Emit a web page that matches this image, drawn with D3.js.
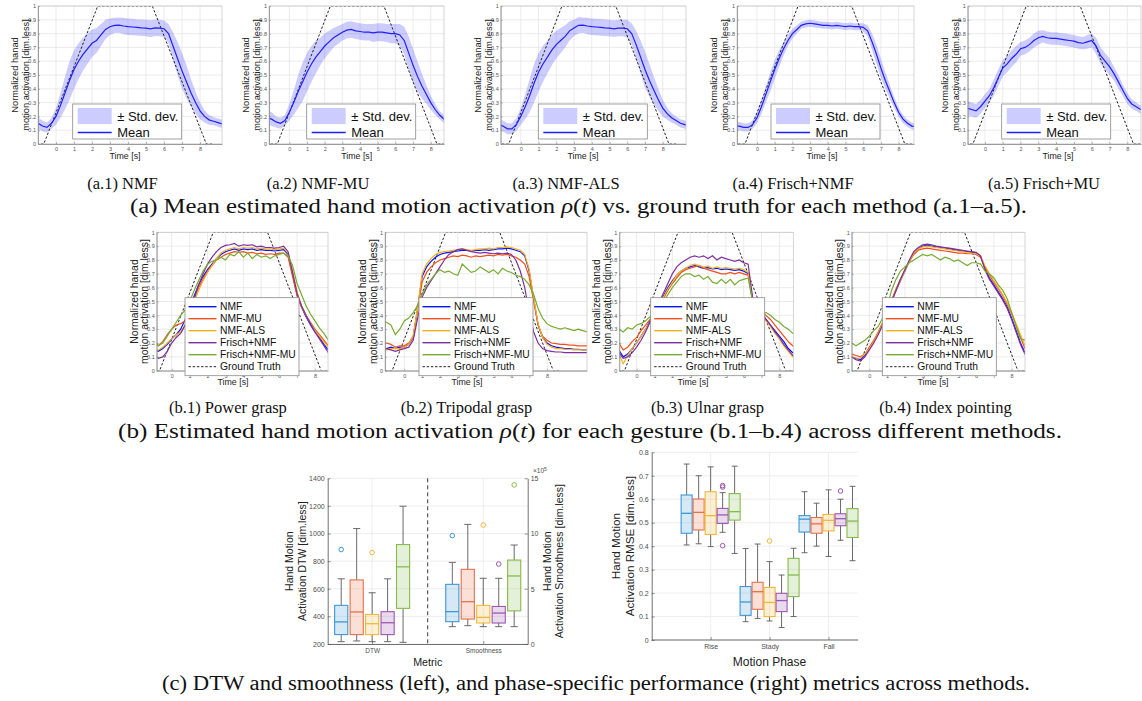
<!DOCTYPE html>
<html>
<head>
<meta charset="utf-8">
<script src="https://cdn.jsdelivr.net/npm/d3@7/dist/d3.min.js"></script>
<style>
  body { margin: 0; background: #fff; }
  svg { display: block; }
</style>
</head>
<body>
<svg id="fig" width="1142" height="701"></svg>
<script>
// ---------- data ----------
// time grid (s), 0.25 s steps; every curve below is read off the reference at these times
const T = [-1.25,-1,-0.75,-0.5,-0.25,0,0.25,0.5,0.75,1,1.25,1.5,1.75,2,2.25,2.5,2.75,3,3.25,3.5,3.75,4,4.25,4.5,4.75,5,
  5.25,5.5,5.75,6,6.25,6.5,6.75,7,7.25,7.5,7.75,8,8.25,8.5,8.75,9,9.25,9.5,9.75,10,10.25];

const timeTicks = [0,1,2,3,4,5,6,7,8];
const actTicks = [0,0.1,0.2,0.3,0.4,0.5,0.6,0.7,0.8,0.9,1];
const actTickLabels = ['0','0.1','0.2','0.3','0.4','0.5','0.6','0.7','0.8','0.9','1'];

// ground truth trapezoid
const gtT = [-1.3, -0.68, 2.32, 5.35, 8.35, 8.75];
const gtV = [0, 0, 1, 1, 0, 0];

// (a) mean and std. dev. per method
const a1Mean = [0.16, 0.15,0.13,0.12,0.15, 0.20,0.28,0.37,0.46, 0.54,0.60,0.65,0.69, 0.73,0.75,0.79,0.83,
  0.85,0.86,0.862,0.855, 0.85,0.848,0.845,0.842, 0.84,0.835,0.842,0.84, 0.835,0.80,0.71,0.62,
  0.53,0.45,0.37,0.30, 0.24,0.20,0.175,0.165, 0.155,0.145,0.14];
const a1Sd = [0.04, 0.04,0.04,0.035,0.04, 0.06,0.09,0.12,0.14, 0.14,0.13,0.12,0.11, 0.10,0.09,0.08,0.07,
  0.06,0.055,0.055,0.06, 0.06,0.06,0.058,0.06, 0.06,0.062,0.06,0.06, 0.06,0.07,0.10,0.12,
  0.13,0.12,0.10,0.08, 0.06,0.045,0.035,0.03, 0.03,0.03,0.03];
const a2Mean = [0.19, 0.18,0.16,0.15,0.17, 0.23,0.30,0.38,0.45, 0.52,0.58,0.63,0.67, 0.71,0.74,0.77,0.79,
  0.81,0.825,0.83,0.82, 0.815,0.81,0.81,0.805, 0.81,0.81,0.805,0.80, 0.80,0.79,0.75,0.66,
  0.57,0.49,0.42,0.36, 0.30,0.25,0.21,0.18, 0.17,0.17,0.16];
const a2Sd = [0.05, 0.05,0.04,0.04,0.04, 0.06,0.09,0.12,0.14, 0.14,0.13,0.12,0.10, 0.09,0.08,0.07,0.065,
  0.06,0.06,0.06,0.06, 0.06,0.06,0.06,0.065, 0.065,0.065,0.065,0.07, 0.07,0.08,0.10,0.12,
  0.12,0.11,0.09,0.07, 0.05,0.04,0.03,0.03, 0.03,0.03,0.03];
const a3Mean = [0.14, 0.13,0.11,0.11,0.14, 0.20,0.27,0.35,0.44, 0.52,0.58,0.63,0.68, 0.72,0.75,0.78,0.82,
  0.84,0.86,0.862,0.855, 0.85,0.848,0.845,0.842, 0.84,0.835,0.84,0.84, 0.835,0.80,0.72,0.63,
  0.54,0.46,0.39,0.32, 0.26,0.22,0.19,0.17, 0.15,0.14,0.13];
const a3Sd = [0.04, 0.04,0.04,0.04,0.045, 0.06,0.09,0.12,0.14, 0.14,0.13,0.12,0.11, 0.10,0.09,0.08,0.07,
  0.06,0.06,0.055,0.06, 0.06,0.06,0.06,0.06, 0.06,0.06,0.06,0.06, 0.065,0.075,0.10,0.12,
  0.13,0.12,0.10,0.08, 0.06,0.045,0.035,0.03, 0.03,0.03,0.03];
const a4Mean = [0.13, 0.13,0.12,0.12,0.14, 0.19,0.27,0.36,0.45, 0.54,0.62,0.69,0.75, 0.80,0.83,0.86,0.87,
  0.875,0.87,0.865,0.86, 0.86,0.855,0.86,0.855, 0.85,0.855,0.85,0.85, 0.845,0.82,0.74,0.65,
  0.55,0.46,0.38,0.30, 0.23,0.18,0.15,0.13, 0.125,0.12,0.12];
const a4Sd = [0.03, 0.03,0.03,0.03,0.03, 0.04,0.05,0.06,0.07, 0.07,0.06,0.05,0.04, 0.035,0.03,0.025,0.025,
  0.025,0.025,0.025,0.025, 0.025,0.025,0.025,0.025, 0.025,0.025,0.025,0.025, 0.03,0.04,0.06,0.07,
  0.07,0.06,0.05,0.04, 0.03,0.03,0.025,0.025, 0.025,0.025,0.025];
const a5Mean = [0.27, 0.26,0.25,0.24,0.27, 0.31,0.35,0.41,0.48, 0.55,0.58,0.62,0.65, 0.69,0.70,0.72,0.75,
  0.77,0.78,0.77,0.765, 0.765,0.76,0.755,0.75, 0.745,0.735,0.73,0.74, 0.75,0.71,0.64,0.60,
  0.56,0.51,0.45,0.39, 0.33,0.29,0.27,0.25, 0.25,0.25,0.25];
const a5Sd = [0.05, 0.05,0.05,0.05,0.05, 0.05,0.05,0.06,0.06, 0.06,0.06,0.06,0.06, 0.05,0.05,0.05,0.05,
  0.05,0.045,0.045,0.045, 0.045,0.045,0.045,0.045, 0.045,0.045,0.045,0.05, 0.05,0.06,0.06,0.06,
  0.06,0.05,0.05,0.04, 0.04,0.035,0.03,0.03, 0.03,0.03,0.03];

// (b) per gesture, one curve per method
const methods = ['NMF', 'NMF-MU', 'NMF-ALS', 'Frisch+NMF', 'Frisch+NMF-MU'];

const b1NMF = [0.15, 0.15,0.14,0.16,0.19, 0.23,0.26,0.30,0.37, 0.45,0.54,0.62,0.68, 0.73,0.77,0.81,0.84,
  0.86,0.87,0.88,0.87, 0.88,0.875,0.88,0.87, 0.875,0.87,0.87,0.865, 0.87,0.875,0.84,0.70,
  0.55,0.46,0.39,0.33, 0.28,0.24,0.19,0.15, 0.14,0.14,0.14];
const b1MU = [0.21, 0.20,0.18,0.21,0.26, 0.30,0.33,0.34,0.36, 0.42,0.52,0.60,0.66, 0.72,0.76,0.80,0.82,
  0.84,0.85,0.86,0.855, 0.86,0.85,0.855,0.845, 0.85,0.84,0.845,0.84, 0.85,0.85,0.82,0.68,
  0.54,0.46,0.40,0.35, 0.30,0.26,0.22,0.18, 0.17,0.17,0.17];
const b1ALS = [0.14, 0.14,0.15,0.17,0.20, 0.23,0.26,0.28,0.33, 0.42,0.50,0.58,0.65, 0.71,0.76,0.81,0.85,
  0.87,0.88,0.89,0.88, 0.89,0.885,0.89,0.88, 0.885,0.88,0.88,0.875, 0.88,0.885,0.85,0.72,
  0.57,0.47,0.40,0.34, 0.29,0.25,0.21,0.17, 0.16,0.16,0.16];
const b1FNMF = [0.13, 0.12,0.09,0.10,0.14, 0.20,0.24,0.27,0.33, 0.42,0.52,0.62,0.70, 0.77,0.82,0.86,0.89,
  0.905,0.91,0.92,0.90, 0.91,0.905,0.91,0.895, 0.90,0.89,0.89,0.885, 0.89,0.90,0.86,0.71,
  0.56,0.47,0.40,0.34, 0.28,0.23,0.18,0.13, 0.12,0.12,0.12];
const b1FMU = [0.24, 0.23,0.18,0.20,0.25, 0.30,0.35,0.40,0.44, 0.50,0.58,0.65,0.72, 0.77,0.79,0.80,0.82,
  0.80,0.84,0.83,0.86, 0.82,0.85,0.81,0.84, 0.82,0.83,0.81,0.83, 0.84,0.85,0.83,0.76,
  0.63,0.55,0.47,0.41, 0.36,0.31,0.27,0.22, 0.21,0.21,0.21];

const b2NMF = [0.16, 0.16,0.17,0.16,0.17, 0.17,0.19,0.24,0.45, 0.68,0.75,0.79,0.82, 0.84,0.85,0.855,0.86,
  0.865,0.87,0.87,0.865, 0.87,0.87,0.875,0.87, 0.875,0.88,0.88,0.885, 0.88,0.87,0.86,0.83,
  0.72,0.52,0.33,0.24, 0.20,0.18,0.17,0.165, 0.16,0.16,0.155,0.155, 0.15,0.15];
const b2MU = [0.20, 0.20,0.19,0.17,0.18, 0.18,0.20,0.25,0.44, 0.64,0.71,0.75,0.78, 0.80,0.81,0.82,0.83,
  0.825,0.835,0.83,0.82, 0.83,0.825,0.83,0.835, 0.83,0.84,0.835,0.84, 0.83,0.82,0.80,0.77,
  0.68,0.50,0.33,0.25, 0.22,0.20,0.195,0.19, 0.19,0.185,0.185,0.18, 0.18,0.18];
const b2ALS = [0.15, 0.15,0.16,0.16,0.16, 0.17,0.19,0.25,0.46, 0.70,0.77,0.81,0.84, 0.855,0.86,0.865,0.87,
  0.875,0.88,0.875,0.87, 0.875,0.88,0.88,0.885, 0.88,0.89,0.89,0.895, 0.89,0.88,0.87,0.84,
  0.73,0.53,0.34,0.24, 0.19,0.17,0.16,0.16, 0.155,0.155,0.15,0.15, 0.15,0.15];
const b2FNMF = [0.16, 0.16,0.15,0.14,0.15, 0.16,0.17,0.22,0.38, 0.53,0.60,0.65,0.70, 0.75,0.80,0.84,0.86,
  0.875,0.88,0.87,0.86, 0.855,0.85,0.855,0.85, 0.845,0.85,0.845,0.85, 0.84,0.80,0.72,0.60,
  0.42,0.28,0.20,0.16, 0.145,0.14,0.135,0.135, 0.13,0.13,0.13,0.13, 0.13,0.13];
const b2FMU = [0.35, 0.35,0.33,0.26,0.30, 0.36,0.38,0.42,0.47, 0.55,0.62,0.66,0.70, 0.73,0.71,0.72,0.70,
  0.69,0.77,0.74,0.71, 0.72,0.75,0.73,0.71, 0.73,0.70,0.74,0.72, 0.71,0.69,0.68,0.66,
  0.62,0.55,0.45,0.38, 0.34,0.32,0.31,0.30, 0.31,0.30,0.29,0.30, 0.29,0.28];

const b3NMF = [0.16, 0.15,0.10,0.12,0.16, 0.20,0.25,0.30,0.36, 0.42,0.48,0.54,0.60, 0.65,0.69,0.72,0.74,
  0.75,0.76,0.75,0.74, 0.745,0.735,0.74,0.73, 0.735,0.73,0.725,0.73, 0.72,0.70,0.50,0.45,
  0.41,0.37,0.33,0.29, 0.25,0.21,0.16,0.13, 0.12,0.12,0.12];
const b3MU = [0.21, 0.20,0.15,0.17,0.21, 0.24,0.29,0.33,0.37, 0.42,0.47,0.52,0.58, 0.63,0.67,0.71,0.73,
  0.74,0.75,0.76,0.74, 0.73,0.72,0.71,0.70, 0.70,0.71,0.70,0.71, 0.70,0.69,0.52,0.46,
  0.43,0.40,0.37,0.33, 0.29,0.25,0.21,0.18, 0.18,0.18,0.18];
const b3ALS = [0.13, 0.12,0.05,0.11,0.16, 0.20,0.25,0.30,0.35, 0.41,0.47,0.53,0.59, 0.64,0.69,0.72,0.74,
  0.76,0.77,0.76,0.75, 0.755,0.74,0.75,0.74, 0.745,0.74,0.735,0.74, 0.73,0.71,0.51,0.45,
  0.40,0.36,0.32,0.27, 0.23,0.18,0.14,0.10, 0.10,0.10,0.10];
const b3FNMF = [0.14, 0.13,0.09,0.10,0.13, 0.17,0.22,0.28,0.35, 0.42,0.49,0.56,0.63, 0.70,0.75,0.78,0.80,
  0.82,0.83,0.82,0.83, 0.81,0.83,0.80,0.82, 0.81,0.80,0.79,0.80, 0.78,0.77,0.53,0.46,
  0.41,0.37,0.33,0.28, 0.24,0.19,0.15,0.11, 0.11,0.11,0.11];
const b3FMU = [0.30, 0.30,0.28,0.31,0.30, 0.33,0.34,0.36,0.39, 0.42,0.46,0.50,0.55, 0.60,0.64,0.68,0.70,
  0.70,0.68,0.69,0.66, 0.68,0.64,0.63,0.66, 0.63,0.66,0.62,0.65, 0.66,0.67,0.50,0.44,
  0.42,0.42,0.40,0.37, 0.35,0.32,0.30,0.27, 0.27,0.27,0.27];

const b4NMF = [0.10, 0.10,0.09,0.08,0.11, 0.16,0.21,0.27,0.34, 0.42,0.50,0.58,0.65, 0.72,0.79,0.85,0.88,
  0.90,0.905,0.90,0.895, 0.89,0.885,0.88,0.875, 0.87,0.865,0.86,0.855, 0.85,0.83,0.74,0.67,
  0.62,0.57,0.52,0.46, 0.38,0.29,0.20,0.13, 0.12,0.12,0.12];
const b4MU = [0.12, 0.12,0.11,0.10,0.12, 0.17,0.22,0.28,0.35, 0.43,0.51,0.59,0.66, 0.73,0.79,0.84,0.87,
  0.88,0.885,0.88,0.875, 0.87,0.865,0.86,0.855, 0.85,0.85,0.845,0.845, 0.84,0.82,0.75,0.69,
  0.64,0.59,0.54,0.48, 0.41,0.33,0.24,0.16, 0.15,0.15,0.15];
const b4ALS = [0.10, 0.10,0.09,0.09,0.12, 0.16,0.21,0.27,0.34, 0.42,0.50,0.58,0.65, 0.72,0.79,0.85,0.88,
  0.895,0.90,0.895,0.89, 0.885,0.88,0.875,0.87, 0.865,0.86,0.855,0.85, 0.845,0.83,0.76,0.70,
  0.65,0.60,0.55,0.49, 0.42,0.34,0.26,0.18, 0.16,0.16,0.16];
const b4FNMF = [0.10, 0.10,0.08,0.07,0.10, 0.15,0.20,0.26,0.33, 0.41,0.50,0.58,0.66, 0.73,0.80,0.86,0.89,
  0.91,0.915,0.91,0.90, 0.895,0.89,0.885,0.88, 0.875,0.87,0.865,0.86, 0.855,0.83,0.73,0.66,
  0.61,0.56,0.51,0.45, 0.37,0.28,0.19,0.12, 0.12,0.12,0.12];
const b4FMU = [0.20, 0.20,0.18,0.20,0.22, 0.25,0.29,0.32,0.38, 0.46,0.58,0.66,0.72, 0.75,0.78,0.80,0.82,
  0.84,0.83,0.84,0.82, 0.80,0.82,0.81,0.79, 0.80,0.78,0.76,0.78, 0.78,0.77,0.72,0.70,
  0.67,0.62,0.58,0.52, 0.42,0.32,0.23,0.22, 0.22,0.22,0.22];

// (c left) box stats [lower whisker, q1, median, q3, upper whisker] + outliers
const metricCats = ['DTW', 'Smoothness'];
const dtwStats = [[217,268,360,480,672],[222,268,432,664,1036],[217,268,347,414,571],[217,268,354,434,672],[212,458,759,920,1198]];
const dtwOut = [[884],[],[862],[],[]];
const smoothStats = [[1.57,2.02,2.93,5.4,7.39],[1.66,2.26,3.83,6.76,10.83],[1.57,1.9,2.4,3.5,5.95],[1.57,1.9,2.8,3.4,5.95],[1.57,3.0,6.16,7.6,8.96]];
const smoothOut = [[9.81],[],[10.77],[7.24],[14.4]];
const dtwTicks = [200,400,600,800,1000,1200,1400];
const smoothTicks = [0,5,10,15];

// (c right) RMSE per motion phase
const phases = ['Rise', 'Stady', 'Fall'];
const riseStats = [[0.405,0.455,0.54,0.618,0.75],[0.41,0.469,0.544,0.601,0.70],[0.398,0.45,0.53,0.632,0.738],[0.459,0.497,0.533,0.561,0.628],[0.369,0.511,0.547,0.624,0.741]];
const riseOut = [[],[],[],[0.652,0.658,0.402],[]];
const stadyStats = [[0.078,0.105,0.162,0.228,0.39],[0.092,0.131,0.206,0.246,0.409],[0.081,0.10,0.16,0.224,0.334],[0.053,0.121,0.168,0.199,0.277],[0.10,0.185,0.277,0.348,0.391]];
const stadyOut = [[],[],[0.422],[],[]];
const fallStats = [[0.372,0.46,0.515,0.53,0.632],[0.40,0.455,0.495,0.522,0.583],[0.356,0.465,0.51,0.535,0.64],[0.425,0.487,0.517,0.538,0.60],[0.338,0.437,0.507,0.56,0.655]];
const fallOut = [[],[],[],[0.635],[]];
const rmseTicks = [0,0.1,0.2,0.3,0.4,0.5,0.6,0.7,0.8];

// ---------- styling ----------
const SANS = "'Liberation Sans', Arial, sans-serif";
const SERIF = "'Liberation Serif', 'Times New Roman', serif";
const lineColors = ['#0a14ff', '#f0501e', '#f2b21e', '#7e2f9e', '#77ac30'];
const boxColors = ['#3d97d8', '#e8714a', '#f0b93a', '#9c58b0', '#86bb4c'];

const svg = d3.select('#fig');

// ---------- time-series panels ----------
function timePanel(p, top, bottom) {
  const x = d3.scaleLinear().domain(p.dom).range([p.left, p.right]);
  const y = d3.scaleLinear().domain([0, 1]).range([bottom, top]);
  const g = svg.append('g');

  g.append('g').selectAll('line').data(timeTicks).join('line')
    .attr('x1', d => x(d)).attr('x2', d => x(d)).attr('y1', top).attr('y2', bottom)
    .attr('stroke', '#e3e3e3').attr('stroke-width', 0.7);
  g.append('g').selectAll('line').data(actTicks).join('line')
    .attr('x1', p.left).attr('x2', p.right).attr('y1', d => y(d)).attr('y2', d => y(d))
    .attr('stroke', '#e3e3e3').attr('stroke-width', 0.7);

  const clipId = 'clip-' + p.id;
  g.append('clipPath').attr('id', clipId).append('rect')
    .attr('x', p.left).attr('y', top).attr('width', p.right - p.left).attr('height', bottom - top);
  const plot = g.append('g').attr('clip-path', `url(#${clipId})`);
  return { x, y, g, plot };
}

function timeAxes(g, x, y, p, top, bottom, labelSize, labOff) {
  g.append('rect').attr('x', p.left).attr('y', top).attr('width', p.right - p.left).attr('height', bottom - top)
    .attr('fill', 'none').attr('stroke', '#c4c4c4').attr('stroke-width', 0.7);

  const ax = g.append('g').attr('transform', `translate(0,${bottom})`)
    .call(d3.axisBottom(x).tickValues(timeTicks).tickSizeInner(-2).tickSizeOuter(0).tickPadding(3));
  const ay = g.append('g').attr('transform', `translate(${p.left},0)`)
    .call(d3.axisLeft(y).tickValues(actTicks).tickFormat((d, i) => actTickLabels[i]).tickSizeInner(-2).tickSizeOuter(0).tickPadding(2));
  [ax, ay].forEach(a => {
    a.select('.domain').attr('stroke', '#8a8a8a').attr('stroke-width', 0.8);
    a.selectAll('.tick line').attr('stroke', '#8a8a8a').attr('stroke-width', 0.6);
    a.selectAll('.tick text').attr('font-family', SANS).attr('font-size', 5.5).attr('fill', '#555');
  });

  const yc = (top + bottom) / 2;
  ['Normalized hanad', 'motion activation [dim.less]'].forEach((s, i) => {
    g.append('text').attr('transform', `translate(${p.left + labOff[i]},${yc}) rotate(-90)`)
      .attr('text-anchor', 'middle').attr('dominant-baseline', 'central')
      .attr('font-family', SANS).attr('font-size', labelSize).attr('fill', '#222').text(s);
  });
}

function groundTruth(plot, x, y) {
  plot.append('path').datum(gtT.map((t, i) => [t, gtV[i]]))
    .attr('d', d3.line().x(d => x(d[0])).y(d => y(d[1])))
    .attr('fill', 'none').attr('stroke', '#222').attr('stroke-width', 1).attr('stroke-dasharray', '2.4,1.8');
}

// row (a)
const rowATop = 6, rowABottom = 144;
const panelsA = [
  { id: 'a1', cap: '(a.1) NMF', mean: a1Mean, sd: a1Sd, left: 38, right: 222, dom: [-1.0, 9.22], legX: 72.7, labX: 125, capX: 122.5 },
  { id: 'a2', cap: '(a.2) NMF-MU', mean: a2Mean, sd: a2Sd, left: 269, right: 444, dom: [-1.15, 8.75], legX: 306.7, labX: 356.7, capX: 318 },
  { id: 'a3', cap: '(a.3) NMF-ALS', mean: a3Mean, sd: a3Sd, left: 500.7, right: 686, dom: [-1.13, 9.31], legX: 538.3, labX: 583, capX: 566 },
  { id: 'a4', cap: '(a.4) Frisch+NMF', mean: a4Mean, sd: a4Sd, left: 737, right: 914, dom: [-1.13, 8.87], legX: 771, labX: 822, capX: 793 },
  { id: 'a5', cap: '(a.5) Frisch+MU', mean: a5Mean, sd: a5Sd, left: 967.7, right: 1141, dom: [-0.97, 8.77], legX: 1001.7, labX: 1058, capX: 1044 }
];

panelsA.forEach(p => {
  const { x, y, g, plot } = timePanel(p, rowATop, rowABottom);
  const pts = p.mean.map((m, i) => ({ t: T[i], m: m, s: p.sd[i] }));
  plot.append('path').datum(pts)
    .attr('d', d3.area().x(d => x(d.t)).y0(d => y(d.m - d.s)).y1(d => y(d.m + d.s)))
    .attr('fill', '#0000ff').attr('fill-opacity', 0.2);
  groundTruth(plot, x, y);
  plot.append('path').datum(pts)
    .attr('d', d3.line().x(d => x(d.t)).y(d => y(d.m)))
    .attr('fill', 'none').attr('stroke', '#1f1fff').attr('stroke-width', 1.2);
  timeAxes(g, x, y, p, rowATop, rowABottom, 9.3, [-23, -12]);

  g.append('text').attr('x', p.labX).attr('y', 159).attr('text-anchor', 'middle')
    .attr('font-family', SANS).attr('font-size', 8.8).attr('fill', '#222').text('Time [s]');

  // legend
  const lg = g.append('g').attr('transform', `translate(${p.legX},104)`);
  lg.append('rect').attr('width', 109).attr('height', 35).attr('fill', '#fff').attr('stroke', '#8a8a8a').attr('stroke-width', 0.8);
  lg.append('rect').attr('x', 5).attr('y', 4).attr('width', 34).attr('height', 16).attr('fill', '#0000ff').attr('fill-opacity', 0.2);
  lg.append('line').attr('x1', 5).attr('x2', 39).attr('y1', 28.5).attr('y2', 28.5).attr('stroke', '#1f1fff').attr('stroke-width', 1.3);
  lg.append('text').attr('x', 44.5).attr('y', 12.5).attr('dominant-baseline', 'central')
    .attr('font-family', SANS).attr('font-size', 13).attr('fill', '#111').text('± Std. dev.');
  lg.append('text').attr('x', 44.5).attr('y', 28).attr('dominant-baseline', 'central')
    .attr('font-family', SANS).attr('font-size', 13).attr('fill', '#111').text('Mean');

  svg.append('text').attr('x', p.capX).attr('y', 189).attr('text-anchor', 'middle')
    .attr('font-family', SERIF).attr('font-size', 16.5).attr('fill', '#111').text(p.cap);
});

// row (b)
const rowBTop = 232.3, rowBBottom = 370.7;
const panelsB = [
  { id: 'b1', cap: '(b.1) Power grasp', series: [b1NMF, b1MU, b1ALS, b1FNMF, b1FMU], left: 156.7, right: 328, dom: [-0.84, 8.73], legX: 185, labX: 233, capX: 228 },
  { id: 'b2', cap: '(b.2) Tripodal grasp', series: [b2NMF, b2MU, b2ALS, b2FNMF, b2FMU], left: 385, right: 587, dom: [-1.08, 10.24], legX: 419, labX: 467, capX: 466.5 },
  { id: 'b3', cap: '(b.3) Ulnar grasp', series: [b3NMF, b3MU, b3ALS, b3FNMF, b3FMU], left: 619.3, right: 793.3, dom: [-0.97, 8.78], legX: 650.7, labX: 693, capX: 707.5 },
  { id: 'b4', cap: '(b.4) Index pointing', series: [b4NMF, b4MU, b4ALS, b4FNMF, b4FMU], left: 851.7, right: 1025, dom: [-0.99, 8.75], legX: 882.3, labX: 933, capX: 945.5 }
];

panelsB.forEach(p => {
  const { x, y, g, plot } = timePanel(p, rowBTop, rowBBottom);
  groundTruth(plot, x, y);
  p.series.forEach((vals, k) => {
    plot.append('path').datum(vals)
      .attr('d', d3.line().x((d, i) => x(T[i])).y(d => y(d)))
      .attr('fill', 'none').attr('stroke', lineColors[k]).attr('stroke-width', 1.2);
  });
  timeAxes(g, x, y, p, rowBTop, rowBBottom, 10.4, [-22.5, -12]);

  g.append('text').attr('x', p.labX).attr('y', 385).attr('text-anchor', 'middle')
    .attr('font-family', SANS).attr('font-size', 8.8).attr('fill', '#222').text('Time [s]');

  const lg = g.append('g').attr('transform', `translate(${p.legX},297.7)`);
  lg.append('rect').attr('width', 114).attr('height', 78).attr('fill', '#fff').attr('stroke', '#8a8a8a').attr('stroke-width', 0.8);
  const entries = methods.map((m, k) => ({ name: m, color: lineColors[k], dash: null }))
    .concat([{ name: 'Ground Truth', color: '#222', dash: '2.4,1.8' }]);
  entries.forEach((e, k) => {
    const yy = 9 + k * 12;
    lg.append('line').attr('x1', 3.5).attr('x2', 31.5).attr('y1', yy).attr('y2', yy)
      .attr('stroke', e.color).attr('stroke-width', e.dash ? 1 : 1.4).attr('stroke-dasharray', e.dash);
    lg.append('text').attr('x', 35).attr('y', yy).attr('dominant-baseline', 'central')
      .attr('font-family', SANS).attr('font-size', 10.3).attr('fill', '#111').text(e.name);
  });

  svg.append('text').attr('x', p.capX).attr('y', 413).attr('text-anchor', 'middle')
    .attr('font-family', SERIF).attr('font-size', 16.5).attr('fill', '#111').text(p.cap);
});

// ---------- box charts ----------
function boxGlyphs(g, cx, w, stats, outs, y, color) {
  const b = g.append('g');
  const wc = '#5a5a5a';
  b.append('line').attr('x1', cx).attr('x2', cx).attr('y1', y(stats[0])).attr('y2', y(stats[1])).attr('stroke', wc).attr('stroke-width', 0.9);
  b.append('line').attr('x1', cx).attr('x2', cx).attr('y1', y(stats[3])).attr('y2', y(stats[4])).attr('stroke', wc).attr('stroke-width', 0.9);
  b.selectAll('line.cap').data([stats[0], stats[4]]).join('line').attr('class', 'cap')
    .attr('x1', cx - w * 0.27).attr('x2', cx + w * 0.27).attr('y1', d => y(d)).attr('y2', d => y(d))
    .attr('stroke', wc).attr('stroke-width', 0.9);
  b.append('rect').attr('x', cx - w / 2).attr('y', y(stats[3])).attr('width', w).attr('height', y(stats[1]) - y(stats[3]))
    .attr('fill', color).attr('fill-opacity', 0.22).attr('stroke', color).attr('stroke-width', 1.1);
  b.append('line').attr('x1', cx - w / 2).attr('x2', cx + w / 2).attr('y1', y(stats[2])).attr('y2', y(stats[2]))
    .attr('stroke', color).attr('stroke-width', 1.3);
  b.selectAll('circle').data(outs).join('circle')
    .attr('cx', cx).attr('cy', d => y(d)).attr('r', 2.3)
    .attr('fill', 'none').attr('stroke', color).attr('stroke-width', 1);
}

function styleAxis(a, size) {
  a.select('.domain').attr('stroke', '#4d4d4d').attr('stroke-width', 0.8);
  a.selectAll('.tick line').attr('stroke', '#4d4d4d').attr('stroke-width', 0.6);
  a.selectAll('.tick text').attr('font-family', SANS).attr('font-size', size).attr('fill', '#4d4d4d');
}

function rotLabel(g, x, y, s, size) {
  g.append('text').attr('transform', `translate(${x},${y}) rotate(-90)`)
    .attr('text-anchor', 'middle').attr('dominant-baseline', 'central')
    .attr('font-family', SANS).attr('font-size', size).attr('fill', '#222').text(s);
}

// left: DTW / smoothness
(function () {
  const L = 327.7, R = 527.7, top = 478.3, bottom = 644;
  const g = svg.append('g');
  const x = d3.scaleLinear().domain([0.6, 2.4]).range([L, R]);
  const yL = d3.scaleLinear().domain([200, 1400]).range([bottom, top]);
  const yR = d3.scaleLinear().domain([0, 15]).range([bottom, top]);
  const inner = d3.scaleBand().domain(methods).range([-37.5, 37.5]).paddingInner(0.15);

  g.append('g').selectAll('line').data(dtwTicks).join('line')
    .attr('x1', L).attr('x2', R).attr('y1', d => yL(d)).attr('y2', d => yL(d))
    .attr('stroke', '#e6e6e6').attr('stroke-width', 0.7);
  g.append('g').selectAll('line').data([1, 2]).join('line')
    .attr('x1', d => x(d)).attr('x2', d => x(d)).attr('y1', top).attr('y2', bottom)
    .attr('stroke', '#e6e6e6').attr('stroke-width', 0.7);
  g.append('line').attr('x1', x(1.5)).attr('x2', x(1.5)).attr('y1', top).attr('y2', bottom)
    .attr('stroke', '#3a3a3a').attr('stroke-width', 1).attr('stroke-dasharray', '4,3');

  methods.forEach((m, k) => {
    const off = inner(m) + inner.bandwidth() / 2;
    boxGlyphs(g, x(1) + off, inner.bandwidth(), dtwStats[k], dtwOut[k], yL, boxColors[k]);
    boxGlyphs(g, x(2) + off, inner.bandwidth(), smoothStats[k], smoothOut[k], yR, boxColors[k]);
  });

  const ax = g.append('g').attr('transform', `translate(0,${bottom})`)
    .call(d3.axisBottom(x).tickValues([1, 2]).tickFormat((d, i) => metricCats[i]).tickSizeInner(-3).tickSizeOuter(0).tickPadding(4));
  styleAxis(ax, 6.5);
  const al = g.append('g').attr('transform', `translate(${L},0)`)
    .call(d3.axisLeft(yL).tickValues(dtwTicks).tickFormat(d3.format('d')).tickSizeInner(-3).tickSizeOuter(0).tickPadding(3));
  styleAxis(al, 7);
  const ar = g.append('g').attr('transform', `translate(${R},0)`)
    .call(d3.axisRight(yR).tickValues(smoothTicks).tickFormat(d3.format('d')).tickSizeInner(-3).tickSizeOuter(0).tickPadding(3));
  styleAxis(ar, 7);

  const ex = g.append('text').attr('x', 533).attr('y', 473).attr('font-family', SANS).attr('font-size', 6.5).attr('fill', '#4d4d4d');
  ex.append('tspan').text('×10');
  ex.append('tspan').attr('dy', -2.5).attr('font-size', 5).text('5');

  g.append('text').attr('x', (L + R) / 2).attr('y', 665.5).attr('text-anchor', 'middle')
    .attr('font-family', SANS).attr('font-size', 10.7).attr('fill', '#222').text('Metric');
  const yc = (top + bottom) / 2;
  rotLabel(g, 289.3, yc, 'Hand Motion', 10.5);
  rotLabel(g, 301.7, yc, 'Activation DTW [dim.less]', 10.5);
  rotLabel(g, 546.7, yc, 'Hand Motion', 10.5);
  rotLabel(g, 558.5, yc, 'Activation Smoothness [dim.less]', 10.5);
})();

// right: RMSE per phase
(function () {
  const L = 651.7, R = 858, top = 452.3, bottom = 640;
  const g = svg.append('g');
  const x = d3.scaleLinear().domain([0, 3.5]).range([L, R]);
  const y = d3.scaleLinear().domain([0, 0.8]).range([bottom, top]);
  const inner = d3.scaleBand().domain(methods).range([-29.5, 29.5]).paddingInner(0.08);
  const stats = [riseStats, stadyStats, fallStats];
  const outs = [riseOut, stadyOut, fallOut];

  g.append('g').selectAll('line').data(rmseTicks).join('line')
    .attr('x1', L).attr('x2', R).attr('y1', d => y(d)).attr('y2', d => y(d))
    .attr('stroke', '#e6e6e6').attr('stroke-width', 0.7);
  g.append('g').selectAll('line').data([1, 2, 3]).join('line')
    .attr('x1', d => x(d)).attr('x2', d => x(d)).attr('y1', top).attr('y2', bottom)
    .attr('stroke', '#e6e6e6').attr('stroke-width', 0.7);

  phases.forEach((ph, j) => {
    methods.forEach((m, k) => {
      const cx = x(j + 1) + inner(m) + inner.bandwidth() / 2;
      boxGlyphs(g, cx, inner.bandwidth(), stats[j][k], outs[j][k], y, boxColors[k]);
    });
  });

  const ax = g.append('g').attr('transform', `translate(0,${bottom})`)
    .call(d3.axisBottom(x).tickValues([1, 2, 3]).tickFormat((d, i) => phases[i]).tickSizeInner(-3).tickSizeOuter(0).tickPadding(4));
  styleAxis(ax, 7);
  ax.select('.domain').attr('d', `M${L},0H${R}`);
  const al = g.append('g').attr('transform', `translate(${L},0)`)
    .call(d3.axisLeft(y).tickValues(rmseTicks).tickFormat(d => d === 0 ? '0' : d.toFixed(1)).tickSizeInner(-3).tickSizeOuter(0).tickPadding(3));
  styleAxis(al, 7);

  g.append('text').attr('x', 769.5).attr('y', 665.5).attr('text-anchor', 'middle')
    .attr('font-family', SANS).attr('font-size', 12).attr('fill', '#222').text('Motion Phase');
  const yc = (top + bottom) / 2;
  rotLabel(g, 615, yc, 'Hand Motion', 11.7);
  rotLabel(g, 629.3, yc, 'Activation RMSE [dim.less]', 11.7);
})();

// ---------- captions ----------
function caption(cx, y, parts, len) {
  const t = svg.append('text').attr('x', cx).attr('y', y).attr('text-anchor', 'middle')
    .attr('font-family', SERIF).attr('font-size', 20).attr('fill', '#111')
    .attr('textLength', len).attr('lengthAdjust', 'spacingAndGlyphs');
  parts.forEach(p => t.append('tspan').attr('font-style', p[1] ? 'italic' : null).text(p[0]));
}
caption(578.5, 212.5, [['(a) Mean estimated hand motion activation '], ['ρ', 1], ['('], ['t', 1], [') vs. ground truth for each method (a.1–a.5).']], 897);
caption(590, 437.5, [['(b) Estimated hand motion activation '], ['ρ', 1], ['('], ['t', 1], [') for each gesture (b.1–b.4) across different methods.']], 944);
caption(596, 689.5, [['(c) DTW and smoothness (left), and phase-specific performance (right) metrics across methods.']], 868);
</script>
</body>
</html>
